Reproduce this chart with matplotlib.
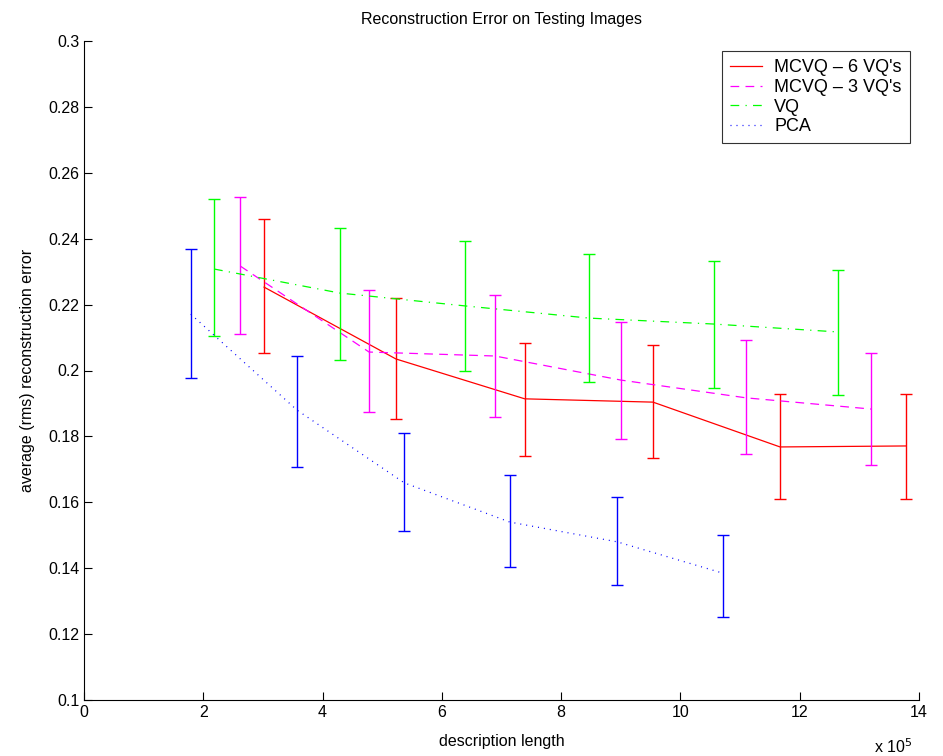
import numpy as np
import matplotlib.pyplot as plt

plt.rcParams['font.family'] = ['Liberation Sans', 'DejaVu Sans']

# description length (x 10^5)
x_mcvq6 = [3.02, 5.23, 7.39, 9.54, 11.67, 13.78]
y_mcvq6 = [0.2253, 0.2035, 0.1914, 0.1904, 0.1768, 0.1771]
lo_mcvq6 = [0.2053, 0.1853, 0.1741, 0.1734, 0.1610, 0.1610]
hi_mcvq6 = [0.2460, 0.2220, 0.2083, 0.2077, 0.1929, 0.1929]

x_mcvq3 = [2.62, 4.78, 6.89, 9.00, 11.10, 13.20]
y_mcvq3 = [0.2317, 0.2056, 0.2044, 0.1971, 0.1917, 0.1883]
lo_mcvq3 = [0.2111, 0.1874, 0.1859, 0.1792, 0.1747, 0.1713]
hi_mcvq3 = [0.2527, 0.2244, 0.2229, 0.2147, 0.2093, 0.2053]

x_vq = [2.18, 4.29, 6.39, 8.47, 10.56, 12.64]
y_vq = [0.2308, 0.2235, 0.2196, 0.2159, 0.2141, 0.2117]
lo_vq = [0.2105, 0.2032, 0.1998, 0.1965, 0.1947, 0.1926]
hi_vq = [0.2520, 0.2432, 0.2393, 0.2354, 0.2332, 0.2305]

x_pca = [1.79, 3.57, 5.37, 7.14, 8.94, 10.71]
y_pca = [0.2171, 0.1880, 0.1659, 0.1540, 0.1480, 0.1385]
lo_pca = [0.1977, 0.1707, 0.1513, 0.1404, 0.1349, 0.1252]
hi_pca = [0.2369, 0.2044, 0.1810, 0.1683, 0.1616, 0.1501]

series = [
    ("MCVQ \u2013 6 VQ's", x_mcvq6, y_mcvq6, lo_mcvq6, hi_mcvq6, (1, 0, 0), '-'),
    ("MCVQ \u2013 3 VQ's", x_mcvq3, y_mcvq3, lo_mcvq3, hi_mcvq3, (1, 0, 1), (0, (7, 5))),
    ("VQ", x_vq, y_vq, lo_vq, hi_vq, (0, 1, 0), (0, (7, 5, 1, 5))),
    ("PCA", x_pca, y_pca, lo_pca, hi_pca, (0, 0, 1), (0, (0.8, 4))),
]

fig = plt.figure(figsize=(9.43, 7.56), dpi=100)
ax = fig.add_axes([84/943, 56/756, (919-84)/943, (700-41)/756])

for name, x, y, lo, hi, c, ls in series:
    y = np.array(y)
    err = [y - np.array(lo), np.array(hi) - y]
    ax.plot(x, y, color=c, linestyle=ls, lw=0.9, label=name)
    ax.errorbar(x, y, yerr=err, fmt='none', ecolor=c, elinewidth=1.0,
                capsize=4, capthick=1.0)

ax.set_xlim(0, 14)
ax.set_ylim(0.1, 0.3)
ax.set_xticks(np.arange(0, 15, 2))
yt = np.arange(0.1, 0.301, 0.02)
ax.set_yticks(yt)
ax.set_yticklabels([f'{v:g}' for v in np.round(yt, 2)])
ax.spines['top'].set_visible(False)
ax.spines['right'].set_visible(False)
ax.tick_params(direction='in', length=6, labelsize=11.5, width=0.8)
for s in ax.spines.values():
    s.set_linewidth(0.8)

ax.set_title('Reconstruction Error on Testing Images', fontsize=11.5, pad=12)
ax.set_xlabel('description length', fontsize=11.5, labelpad=10)
ax.set_ylabel('average (rms) reconstruction error', fontsize=11.5, labelpad=9)
ax.text(0.9916, -0.071, r'x 10$^5$', transform=ax.transAxes, fontsize=11.5,
        ha='right', va='center')

leg = ax.legend(loc='upper right', bbox_to_anchor=(0.9892, 0.9848), fontsize=13,
                frameon=True, fancybox=False, edgecolor='black', borderaxespad=0,
                handlelength=1.75, handletextpad=0.7, borderpad=0.45,
                labelspacing=0.15)
leg.get_frame().set_linewidth(0.8)

fig.savefig('out.png', dpi=100)
